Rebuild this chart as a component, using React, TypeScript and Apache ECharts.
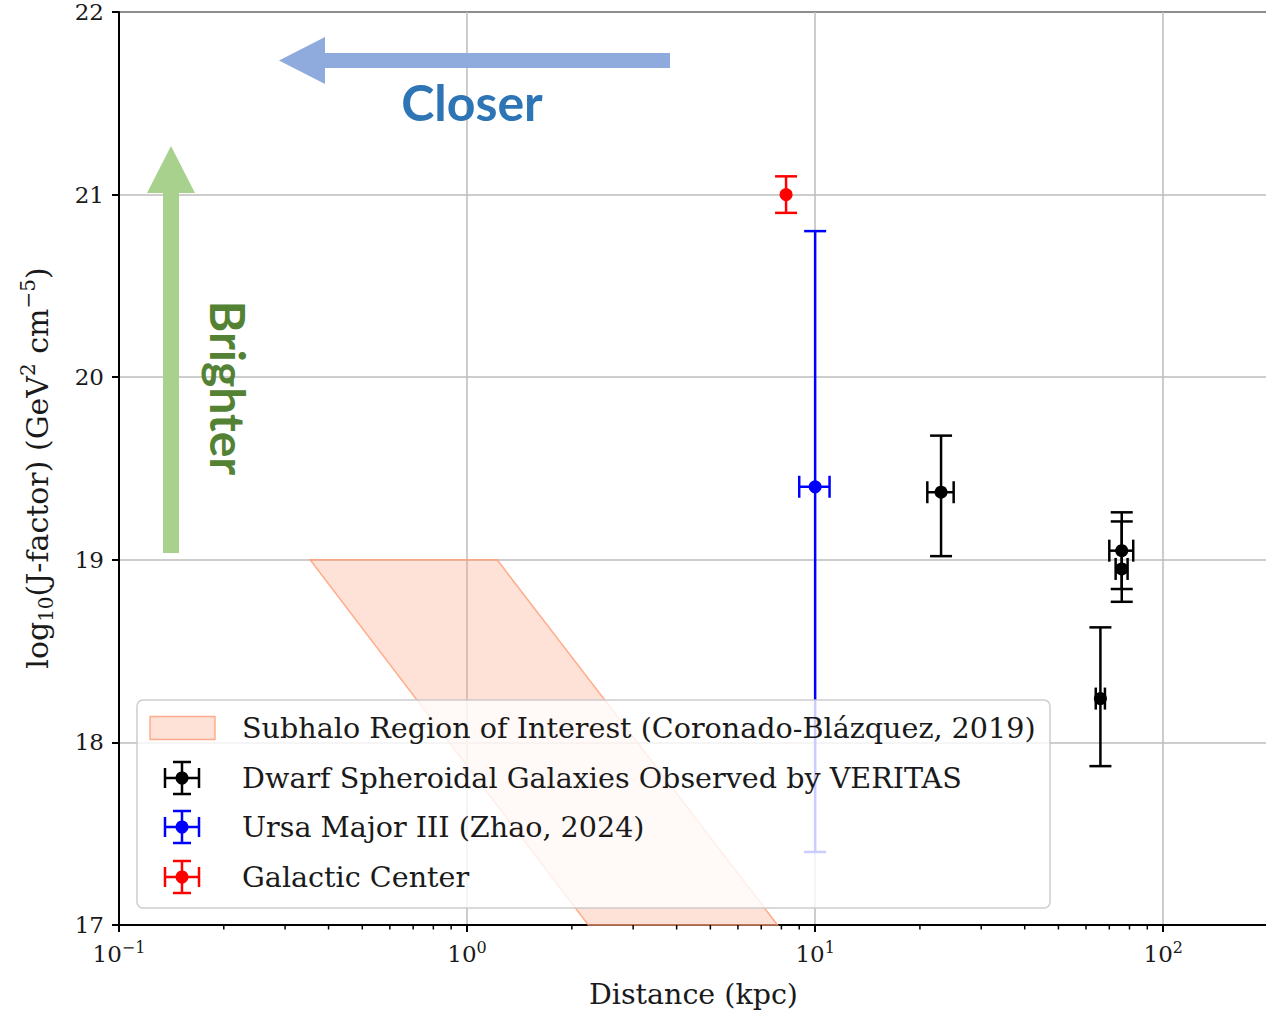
import React, { useEffect, useRef } from 'react';
import * as echarts from 'echarts';

const SERIF = "'DejaVu Serif', 'Liberation Serif', serif";
const SANS = "Lato, 'Noto Sans', sans-serif";
const INK = '#1a1a1a';
const GRID_GREY = '#bdbdbd';
const SALMON_FILL = 'rgba(255,160,122,0.3)';
const SALMON_EDGE = 'rgba(255,160,122,0.85)';

// Axis ticks
const xTickValues = [0.1, 1, 10, 100];
const xTickExponents = ['\u22121', '0', '1', '2'];
const yTickValues = [17, 18, 19, 20, 21, 22];

// Subhalo region corners (distance in kpc, log10 J)
const subhaloDistance = [0.354, 1.22, 7.8, 2.23];
const subhaloLogJ = [19, 19, 17, 17];

// Dwarf spheroidal galaxies observed by VERITAS (Segue 1, Draco, Ursa Minor, Boötes I)
const dwarfDistance = [23, 76, 76, 66];
const dwarfDistanceErr = [2, 6, 3, 2];
const dwarfLogJ = [19.37, 19.05, 18.95, 18.24];
const dwarfLogJErrLow = [0.35, 0.21, 0.18, 0.37];
const dwarfLogJErrHigh = [0.31, 0.21, 0.26, 0.39];

// Ursa Major III
const umaDistance = [10];
const umaDistanceErr = [1];
const umaLogJ = [19.4];
const umaLogJErrLow = [2.0];
const umaLogJErrHigh = [1.4];

// Galactic Center
const gcDistance = [8.25];
const gcDistanceErr = [0];
const gcLogJ = [21.0];
const gcLogJErrLow = [0.1];
const gcLogJErrHigh = [0.1];

const legendLabels = [
  'Subhalo Region of Interest (Coronado-Bl\u00e1zquez, 2019)',
  'Dwarf Spheroidal Galaxies Observed by VERITAS',
  'Ursa Major III (Zhao, 2024)',
  'Galactic Center',
];
const legendColors = ['', '#000000', '#0000ff', '#ff0000'];

const errorRows = (d: number[], de: number[], j: number[], jl: number[], jh: number[]) =>
  d.map((v, i) => [v, j[i], de[i], de[i], jl[i], jh[i]]);

const seg = (x1: number, y1: number, x2: number, y2: number, color: string, w = 2.5, z?: number) => {
  const el: any = {
    type: 'line',
    shape: { x1, y1, x2, y2 },
    style: { stroke: color, lineWidth: w },
  };
  if (z !== undefined) el.z = z;
  return el;
};

const CAP = 11;
const LEGEND_Z = 100;

const errorBarRenderer = (color: string) => (_params: any, api: any) => {
  const x = api.value(0);
  const y = api.value(1);
  const xErrLo = api.value(2);
  const xErrHi = api.value(3);
  const c = api.coord([x, y]);
  const top = api.coord([x, y + api.value(5)]);
  const bot = api.coord([x, y - api.value(4)]);
  const children: any[] = [
    seg(c[0], top[1], c[0], bot[1], color),
    seg(c[0] - CAP, top[1], c[0] + CAP, top[1], color),
    seg(c[0] - CAP, bot[1], c[0] + CAP, bot[1], color),
  ];
  if (xErrLo > 0 || xErrHi > 0) {
    const left = api.coord([x - xErrLo, y]);
    const right = api.coord([x + xErrHi, y]);
    children.push(
      seg(left[0], c[1], right[0], c[1], color),
      seg(left[0], c[1] - CAP, left[0], c[1] + CAP, color),
      seg(right[0], c[1] - CAP, right[0], c[1] + CAP, color),
    );
  }
  children.push({ type: 'circle', shape: { cx: c[0], cy: c[1], r: 6.5 }, style: { fill: color } });
  return { type: 'group', children };
};

// Minor tick positions on the log axis: 2..9 within each decade
const minorTickValues: number[] = [];
xTickValues.forEach((d) => {
  for (let k = 2; k <= 9; k++) {
    if (d * k < 200) minorTickValues.push(d * k);
  }
});

const legendIcon = (cx: number, cy: number, color: string) => [
  seg(cx - 17, cy, cx + 17, cy, color, 2.5, LEGEND_Z + 1),
  seg(cx - 17, cy - 10, cx - 17, cy + 10, color, 2.5, LEGEND_Z + 1),
  seg(cx + 17, cy - 10, cx + 17, cy + 10, color, 2.5, LEGEND_Z + 1),
  seg(cx, cy - 16, cx, cy + 16, color, 2.5, LEGEND_Z + 1),
  seg(cx - 9, cy - 16, cx + 9, cy - 16, color, 2.5, LEGEND_Z + 1),
  seg(cx - 9, cy + 16, cx + 9, cy + 16, color, 2.5, LEGEND_Z + 1),
  { type: 'circle', z: LEGEND_Z + 2, shape: { cx, cy, r: 6.5 }, style: { fill: color } },
];

function buildOption(): any {
  const legendX = 137;
  const legendY = 700;
  const rowY = [728, 778, 827, 877];

  const legendElements: any[] = [
    {
      type: 'rect',
      z: LEGEND_Z,
      shape: { x: legendX, y: legendY, width: 913, height: 208, r: 6 },
      style: { fill: 'rgba(255,255,255,0.8)', stroke: 'rgba(200,200,200,0.9)', lineWidth: 1.5 },
    },
    {
      type: 'rect',
      z: LEGEND_Z + 1,
      shape: { x: 150, y: rowY[0] - 11.5, width: 65, height: 23 },
      style: { fill: SALMON_FILL, stroke: SALMON_EDGE, lineWidth: 1.5 },
    },
  ];
  for (let i = 1; i < 4; i++) legendElements.push(...legendIcon(182, rowY[i], legendColors[i]));
  legendLabels.forEach((t, i) =>
    legendElements.push({
      type: 'text',
      z: LEGEND_Z + 1,
      x: 242,
      y: rowY[i],
      style: {
        text: t,
        font: `28.6px ${SERIF}`,
        fill: INK,
        textAlign: 'left',
        textVerticalAlign: 'middle',
      },
    }),
  );

  return {
    animation: false,
    backgroundColor: '#ffffff',
    grid: {
      left: 119,
      top: 12,
      right: -2,
      bottom: 87,
      outerBoundsMode: 'none',
      containLabel: false,
      show: true,
      borderColor: '#000000',
      borderWidth: 2,
      backgroundColor: 'transparent',
    },
    xAxis: {
      type: 'log',
      logBase: 10,
      min: 0.1,
      max: 200,
      name: 'Distance (kpc)',
      nameLocation: 'middle',
      nameGap: 55,
      nameTextStyle: { fontFamily: SERIF, fontSize: 28.5, color: INK },
      axisLine: { show: true, lineStyle: { color: '#000', width: 2 } },
      axisTick: { show: true, length: 7, lineStyle: { color: '#000', width: 2 } },
      splitLine: { show: true, lineStyle: { color: GRID_GREY, width: 1.5 } },
      axisLabel: {
        margin: 14,
        showMaxLabel: false,
        formatter: (v: number) => {
          const idx = xTickValues.findIndex((t) => Math.abs(Math.log10(t) - Math.log10(v)) < 1e-6);
          return idx < 0 ? '' : `{b|10}{e|${xTickExponents[idx]}}`;
        },
        rich: {
          b: { fontFamily: SERIF, fontSize: 23, color: INK, lineHeight: 30 },
          e: { fontFamily: SERIF, fontSize: 16, color: INK, lineHeight: 16, verticalAlign: 'top' },
        },
      },
    },
    yAxis: {
      type: 'value',
      min: 17,
      max: 22,
      interval: 1,
      axisLine: { show: true, lineStyle: { color: '#000', width: 2 } },
      axisTick: { show: true, length: 7, lineStyle: { color: '#000', width: 2 } },
      splitLine: { show: true, lineStyle: { color: GRID_GREY, width: 1.5 } },
      axisLabel: {
        margin: 15,
        fontFamily: SERIF,
        fontSize: 23,
        color: INK,
        formatter: (v: number) => (yTickValues.includes(v) ? String(v) : ''),
      },
    },
    series: [
      {
        type: 'custom',
        name: 'minor ticks',
        silent: true,
        clip: false,
        data: minorTickValues.map((v) => [v, 17]),
        encode: { x: 0, y: 1 },
        renderItem: (_p: any, api: any) => {
          const c = api.coord([api.value(0), api.value(1)]);
          return seg(c[0], c[1], c[0], c[1] + 4.5, '#000', 1.5);
        },
        z: 3,
      },
      {
        type: 'custom',
        name: legendLabels[0],
        silent: true,
        data: subhaloDistance.map((d, i) => [d, subhaloLogJ[i]]),
        encode: { x: 0, y: 1 },
        renderItem: (params: any, api: any) => {
          if (params.dataIndex !== 0) return null;
          const points = subhaloDistance.map((d, i) => api.coord([d, subhaloLogJ[i]]));
          return {
            type: 'polygon',
            shape: { points },
            style: { fill: SALMON_FILL, stroke: SALMON_EDGE, lineWidth: 1.5 },
          };
        },
        z: 2,
      },
      {
        type: 'custom',
        name: legendLabels[1],
        data: errorRows(dwarfDistance, dwarfDistanceErr, dwarfLogJ, dwarfLogJErrLow, dwarfLogJErrHigh),
        encode: { x: 0, y: 1 },
        renderItem: errorBarRenderer('#000000'),
        z: 4,
      },
      {
        type: 'custom',
        name: legendLabels[2],
        data: errorRows(umaDistance, umaDistanceErr, umaLogJ, umaLogJErrLow, umaLogJErrHigh),
        encode: { x: 0, y: 1 },
        renderItem: errorBarRenderer('#0000ff'),
        z: 4,
      },
      {
        type: 'custom',
        name: legendLabels[3],
        data: errorRows(gcDistance, gcDistanceErr, gcLogJ, gcLogJErrLow, gcLogJErrHigh),
        encode: { x: 0, y: 1 },
        renderItem: errorBarRenderer('#ff0000'),
        z: 4,
      },
    ],
    graphic: [
      // "Closer" arrow pointing left
      {
        type: 'polygon',
        z: 50,
        shape: {
          points: [
            [279, 60.5],
            [325, 37],
            [325, 53],
            [670, 53],
            [670, 68],
            [325, 68],
            [325, 84],
          ],
        },
        style: { fill: '#8faadc' },
      },
      {
        type: 'text',
        z: 50,
        x: 472,
        y: 102,
        style: {
          text: 'Closer',
          font: `bold 50px ${SANS}`,
          fill: '#2e75b6',
          textAlign: 'center',
          textVerticalAlign: 'middle',
        },
      },
      // "Brighter" arrow pointing up
      {
        type: 'polygon',
        z: 50,
        shape: {
          points: [
            [171, 146],
            [195, 193],
            [179, 193],
            [179, 553],
            [163, 553],
            [163, 193],
            [147, 193],
          ],
        },
        style: { fill: '#a9d18e' },
      },
      {
        type: 'text',
        z: 50,
        x: 228,
        y: 388,
        rotation: -Math.PI / 2,
        style: {
          text: 'Brighter',
          font: `bold 48px ${SANS}`,
          fill: '#548235',
          textAlign: 'center',
          textVerticalAlign: 'middle',
        },
      },
      // Y-axis title
      {
        type: 'text',
        z: 50,
        x: 37,
        y: 468,
        rotation: Math.PI / 2,
        style: {
          text: '{n|log}{s|10}{n|(J-factor) (GeV}{p|2}{n| cm}{p|\u22125}{n|)}',
          textAlign: 'center',
          textVerticalAlign: 'middle',
          rich: {
            n: { fontFamily: SERIF, fontSize: 30, fill: INK, lineHeight: 38 },
            s: { fontFamily: SERIF, fontSize: 20, fill: INK, lineHeight: 21, verticalAlign: 'bottom' },
            p: { fontFamily: SERIF, fontSize: 20, fill: INK, lineHeight: 21, verticalAlign: 'top' },
          },
        },
      },
      // Legend
      ...legendElements,
    ],
  };
}

export default function App() {
  const ref = useRef<HTMLDivElement>(null);
  useEffect(() => {
    if (!ref.current) return;
    const chart = echarts.init(ref.current, undefined, { renderer: 'svg' });
    chart.setOption(buildOption());
    return () => chart.dispose();
  }, []);
  return (
    <div
      ref={ref}
      style={{ position: 'absolute', left: 0, top: 0, width: 1266, height: 1012, background: '#fff' }}
    />
  );
}
